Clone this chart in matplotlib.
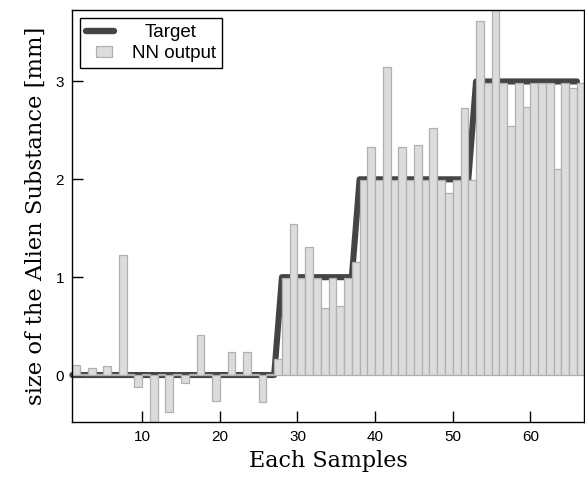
import matplotlib
matplotlib.use("Agg")
import matplotlib.pyplot as plt
from matplotlib.patches import Rectangle
from matplotlib.legend_handler import HandlerPatch
from matplotlib.transforms import Affine2D
import numpy as np

samples = list(range(1, 67))
target = [0.0] * 27 + [1.0] * 10 + [2.0] * 15 + [3.0] * 14
nn_output = [
    0.10, 0.01, 0.07, 0.01, 0.09, 0.01, 1.23, 0.01, -0.12, 0.01,
    -0.52, 0.01, -0.38, 0.01, -0.085, 0.01, 0.41, 0.01, -0.27, 0.01,
    0.24, 0.01, 0.24, 0.01, -0.28, 0.01, 0.16,
    0.99, 1.54, 0.99, 1.31, 0.99, 0.69, 0.99, 0.71, 0.99, 1.15,
    1.99, 2.33, 1.99, 3.15, 1.99, 2.33, 1.99, 2.35, 1.99, 2.52,
    1.99, 1.86, 1.99, 2.73, 1.99,
    3.62, 2.98, 3.78, 2.98, 2.54, 2.98, 2.74, 2.98, 2.98, 2.98,
    2.11, 2.98, 2.93, 2.98,
]
xticks = [10, 20, 30, 40, 50, 60]
yticks = [0, 1, 2, 3]

fig = plt.figure(figsize=(5.85, 4.79), dpi=100)
ax = fig.add_axes([0.1236, 0.1196, 0.8747, 0.8595])

line, = ax.plot(samples, target, color="#444444", linewidth=4.4,
                solid_capstyle="round", solid_joinstyle="round",
                zorder=1, clip_on=False, label="Target")
bars = ax.bar(samples, nn_output, width=1.0, align="edge",
              color="#dcdcdc", edgecolor="#b0b0b0", linewidth=0.9,
              zorder=2, label="NN output")

ax.set_xlim(1, 66.9)
ax.set_ylim(-0.477, 3.73)
ax.set_xticks(xticks)
ax.set_yticks(yticks)
ax.tick_params(direction="in", length=7.7, width=1.0, top=False, right=False,
               labelsize=11, pad=6)
for lab in ax.get_xticklabels() + ax.get_yticklabels():
    lab.set_family("Liberation Sans")
for sp in ax.spines.values():
    sp.set_linewidth(1.0)
    sp.set_zorder(5)

ax.set_xlabel("Each Samples", family="DejaVu Serif", fontsize=16, labelpad=4)
ax.set_ylabel("size of the Alien Substance [mm]", family="DejaVu Serif",
              fontsize=16.3, labelpad=6)


def small_rect(legend, orig_handle, xdescent, ydescent, width, height, fontsize):
    w = 11.5
    h = 7.5
    return Rectangle((-xdescent + (width - w) / 2 + 2.5,
                      -ydescent + (height - h) / 2 - 0.5), w, h)


bar_handle = Rectangle((0, 0), 1, 1, facecolor="#dcdcdc", edgecolor="#b0b0b0",
                       linewidth=0.9)
leg = ax.legend(handles=[line, bar_handle], labels=["Target", "NN output"],
                loc="upper left", fancybox=False,
                edgecolor="black", framealpha=1, borderaxespad=0.43,
                prop={"family": "Liberation Sans", "size": 13.5},
                handlelength=1.5, handletextpad=0.95, borderpad=0.32,
                labelspacing=0.17,
                handler_map={Rectangle: HandlerPatch(patch_func=small_rect)})
leg.get_frame().set_linewidth(1.0)
leg.legend_handles[0].set_linewidth(4.6)
leg.legend_handles[0].set_solid_capstyle("round")
leg.set_zorder(10)
# centre the shorter label, as in the reference legend
t0 = leg.get_texts()[0]
t0.set_transform(t0.get_transform() + Affine2D().translate(12.5, 0))

fig.savefig("out.png", dpi=100)
